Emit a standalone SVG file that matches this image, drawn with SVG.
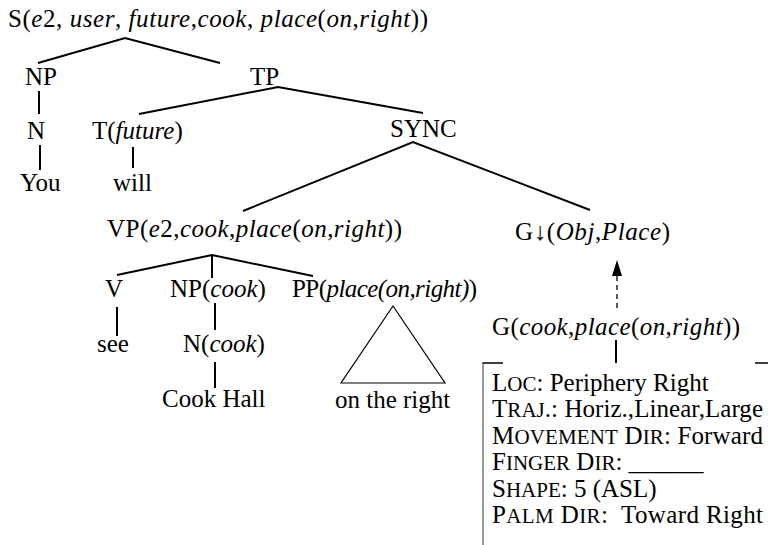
<svg xmlns="http://www.w3.org/2000/svg" width="768" height="545" viewBox="0 0 768 545">
<style>
text{font-family:"Liberation Serif","Times New Roman",serif;font-size:25px;fill:#000;white-space:pre}
.i{font-style:italic}
.sc{font-size:21px}
.e{stroke:#000;stroke-width:2;fill:none}
.t{stroke:#000;stroke-width:1.2;fill:none}
</style>
<rect width="768" height="545" fill="#fff"/>
<g id="connectors">
<path class="e" d="M38,63 L125,38 L220,63"/>
<path class="e" d="M39,91 V114"/>
<path class="e" d="M40,145 V170"/>
<path class="e" d="M139,114 L278,87 L423,113"/>
<path class="e" d="M133,147 V168"/>
<path class="e" d="M243,211 L413,142 L590,210"/>
<path class="e" d="M117,275 L212,255 L313,276 M212,255 V278"/>
<path class="e" d="M117,307 V336"/>
<path class="e" d="M215,303 V330"/>
<path class="e" d="M215,362 V388"/>
<path class="t" d="M393,306 L341,383 L445,383 Z"/>
<path class="e" d="M616,340 V363"/>
<path d="M617,308 V276" stroke="#000" stroke-width="1.3" stroke-dasharray="5,4" fill="none"/>
<path d="M612,276 L617,260 L622,276 Z" fill="#000"/>
</g>
<g id="n-root"><text x="8" y="27" textLength="420">S(<tspan class="i">e</tspan>2, <tspan class="i">user</tspan>, <tspan class="i">future</tspan>,<tspan class="i">cook</tspan>, <tspan class="i">place</tspan>(<tspan class="i">on</tspan>,<tspan class="i">right</tspan>))</text></g>
<g id="n-np"><text x="25" y="85">NP</text></g>
<g id="n-tp"><text x="250" y="85">TP</text></g>
<g id="n-n"><text x="27" y="139">N</text></g>
<g id="n-you"><text x="20" y="191">You</text></g>
<g id="n-t"><text x="92" y="139">T(<tspan class="i">future</tspan>)</text></g>
<g id="n-will"><text x="113" y="191">will</text></g>
<g id="n-sync"><text x="390" y="137">SYNC</text></g>
<g id="n-vp"><text x="107" y="237" textLength="295">VP(<tspan class="i">e</tspan>2,<tspan class="i">cook</tspan>,<tspan class="i">place</tspan>(<tspan class="i">on</tspan>,<tspan class="i">right</tspan>))</text></g>
<g id="n-gdown"><text x="515" y="240" textLength="155">G↓(<tspan class="i">Obj</tspan>,<tspan class="i">Place</tspan>)</text></g>
<g id="n-v"><text x="105" y="297">V</text></g>
<g id="n-see"><text x="97" y="352">see</text></g>
<g id="n-npcook"><text x="170" y="297">NP(<tspan class="i">cook</tspan>)</text></g>
<g id="n-ncook"><text x="183" y="352">N(<tspan class="i">cook</tspan>)</text></g>
<g id="n-cookhall"><text x="162" y="407">Cook Hall</text></g>
<g id="n-pp"><text x="292" y="297" textLength="185">PP(<tspan class="i">place(on,right)</tspan>)</text></g>
<g id="n-ontheright"><text x="335" y="408">on the right</text></g>
<g id="n-g"><text x="492" y="335" textLength="248">G(<tspan class="i">cook</tspan>,<tspan class="i">place</tspan>(<tspan class="i">on</tspan>,<tspan class="i">right</tspan>))</text></g>
<g id="n-box">
<path d="M483,545 V363" stroke="#777" stroke-width="1.5" fill="none"/>
<path d="M482.5,363 H503 M755,363 H768" stroke="#000" stroke-width="1.3" fill="none"/>
<text x="492" y="391">L<tspan class="sc">OC</tspan>: Periphery Right</text>
<text x="492" y="417" textLength="271">T<tspan class="sc">RAJ</tspan>.: Horiz.,Linear,Large</text>
<text x="492" y="444" textLength="271">M<tspan class="sc">OVEMENT</tspan> D<tspan class="sc">IR</tspan>: Forward</text>
<text x="492" y="470">F<tspan class="sc">INGER</tspan> D<tspan class="sc">IR</tspan>: ______</text>
<text x="492" y="497">S<tspan class="sc">HAPE</tspan>: 5 (ASL)</text>
<text x="492" y="523" textLength="271">P<tspan class="sc">ALM</tspan> D<tspan class="sc">IR</tspan>:  Toward Right</text>
</g>
</svg>
